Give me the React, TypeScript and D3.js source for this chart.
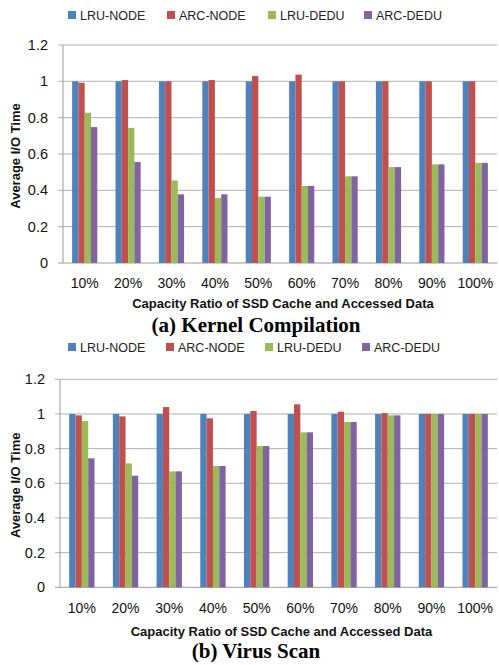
import { useEffect, useRef } from "react";
import * as d3 from "d3";

const CATEGORIES = ["10%", "20%", "30%", "40%", "50%", "60%", "70%", "80%", "90%", "100%"];
const SERIES = ["LRU-NODE", "ARC-NODE", "LRU-DEDU", "ARC-DEDU"];
const COLORS = ["#4F81BD", "#C0504D", "#9BBB59", "#8064A2"];
const Y_TICKS = [0, 0.2, 0.4, 0.6, 0.8, 1, 1.2];

// (a) Kernel Compilation
const KC_LRU_NODE = [1, 1, 1, 1, 1, 1, 1, 1, 1, 1];
const KC_ARC_NODE = [0.992, 1.007, 1.0, 1.007, 1.029, 1.037, 1.0, 1.0, 1.0, 1.0];
const KC_LRU_DEDU = [0.827, 0.744, 0.454, 0.358, 0.365, 0.424, 0.477, 0.528, 0.543, 0.551];
const KC_ARC_DEDU = [0.748, 0.556, 0.378, 0.378, 0.365, 0.424, 0.477, 0.528, 0.543, 0.551];

// (b) Virus Scan
const VS_LRU_NODE = [1, 1, 1, 1, 1, 1, 1, 1, 1, 1];
const VS_ARC_NODE = [0.992, 0.986, 1.04, 0.975, 1.017, 1.056, 1.013, 1.005, 1.0, 1.0];
const VS_LRU_DEDU = [0.96, 0.715, 0.669, 0.7, 0.815, 0.894, 0.954, 0.992, 1.0, 1.0];
const VS_ARC_DEDU = [0.744, 0.644, 0.669, 0.7, 0.815, 0.894, 0.954, 0.992, 1.0, 1.0];

type PanelCfg = {
  series: number[][];
  title: string;
  left: number;
  right: number;
  top: number;
  bottom: number;
  legendY: number;
  legendX: number[];
  xLabelY: number;
  xTitleY: number;
  titleY: number;
};

const SANS = "'Liberation Sans', Arial, sans-serif";

function drawPanel(svg: d3.Selection<SVGSVGElement, unknown, null, undefined>, p: PanelCfg) {
  const g = svg.append("g");
  const x = d3.scaleBand<string>().domain(CATEGORIES).range([p.left, p.right]).paddingInner(0.42).paddingOuter(0.21);
  const x1 = d3.scaleBand<string>().domain(SERIES).range([0, x.bandwidth()]);
  const y = d3.scaleLinear().domain([0, 1.2]).range([p.bottom, p.top]);

  // legend
  SERIES.forEach((s, i) => {
    g.append("rect").attr("x", p.legendX[i]).attr("y", p.legendY - 4).attr("width", 8).attr("height", 8).attr("fill", COLORS[i]);
    g.append("text").attr("x", p.legendX[i] + 12).attr("y", p.legendY + 4.5)
      .attr("font-family", SANS).attr("font-size", 12.5).attr("fill", "#222").text(s);
  });

  // grid + y ticks
  Y_TICKS.forEach((t) => {
    g.append("line").attr("x1", p.left - 5).attr("x2", p.right).attr("y1", y(t)).attr("y2", y(t))
      .attr("stroke", t === 0 ? "#999" : "#b0b0b0").attr("stroke-width", 1);
    g.append("text").attr("x", p.left - 15).attr("y", y(t) + 5).attr("text-anchor", "end")
      .attr("font-family", SANS).attr("font-size", 14.5).attr("fill", "#111").text(String(t));
  });
  g.append("line").attr("x1", p.left).attr("x2", p.left).attr("y1", p.top).attr("y2", p.bottom)
    .attr("stroke", "#999");

  // bars
  CATEGORIES.forEach((c, ci) => {
    SERIES.forEach((s, si) => {
      const v = p.series[si][ci];
      g.append("rect").attr("x", (x(c) ?? 0) + (x1(s) ?? 0)).attr("y", y(v))
        .attr("width", x1.bandwidth()).attr("height", y(0) - y(v)).attr("fill", COLORS[si]);
    });
    g.append("text").attr("x", (x(c) ?? 0) + x.bandwidth() / 2).attr("y", p.xLabelY).attr("text-anchor", "middle")
      .attr("font-family", SANS).attr("font-size", 14).attr("fill", "#111").text(c);
  });

  g.append("text").attr("x", (p.left + p.right) / 2 + 3).attr("y", p.xTitleY).attr("text-anchor", "middle")
    .attr("font-family", SANS).attr("font-size", 13).attr("font-weight", "bold").attr("fill", "#111")
    .text("Capacity Ratio of SSD Cache and Accessed Data");

  g.append("text").attr("transform", `translate(19.5,${(p.top + p.bottom) / 2 + 2}) rotate(-90)`).attr("text-anchor", "middle")
    .attr("font-family", SANS).attr("font-size", 13).attr("font-weight", "bold").attr("fill", "#111")
    .text("Average I/O Time");

  g.append("text").attr("x", 256).attr("y", p.titleY).attr("text-anchor", "middle")
    .attr("font-family", "'Liberation Serif', 'Times New Roman', serif").attr("font-size", 21).attr("font-weight", "bold")
    .attr("fill", "#000").text(p.title);
}

export default function App() {
  const ref = useRef<SVGSVGElement | null>(null);

  useEffect(() => {
    if (!ref.current) return;
    const svg = d3.select(ref.current);
    svg.selectAll("*").remove();

    drawPanel(svg, {
      series: [KC_LRU_NODE, KC_ARC_NODE, KC_LRU_DEDU, KC_ARC_DEDU],
      title: "(a) Kernel Compilation",
      left: 63, right: 497, top: 45, bottom: 263,
      legendY: 15, legendX: [68, 167, 268, 364],
      xLabelY: 288, xTitleY: 308, titleY: 332,
    });
    drawPanel(svg, {
      series: [VS_LRU_NODE, VS_ARC_NODE, VS_LRU_DEDU, VS_ARC_DEDU],
      title: "(b) Virus Scan",
      left: 60, right: 497, top: 379.3, bottom: 587.3,
      legendY: 347, legendX: [68, 166, 265, 362],
      xLabelY: 613, xTitleY: 636, titleY: 658,
    });
  }, []);

  return (
    <svg ref={ref} width={499} height={665}
      style={{ position: "absolute", left: 0, top: 0, background: "#fff", display: "block" }} />
  );
}
